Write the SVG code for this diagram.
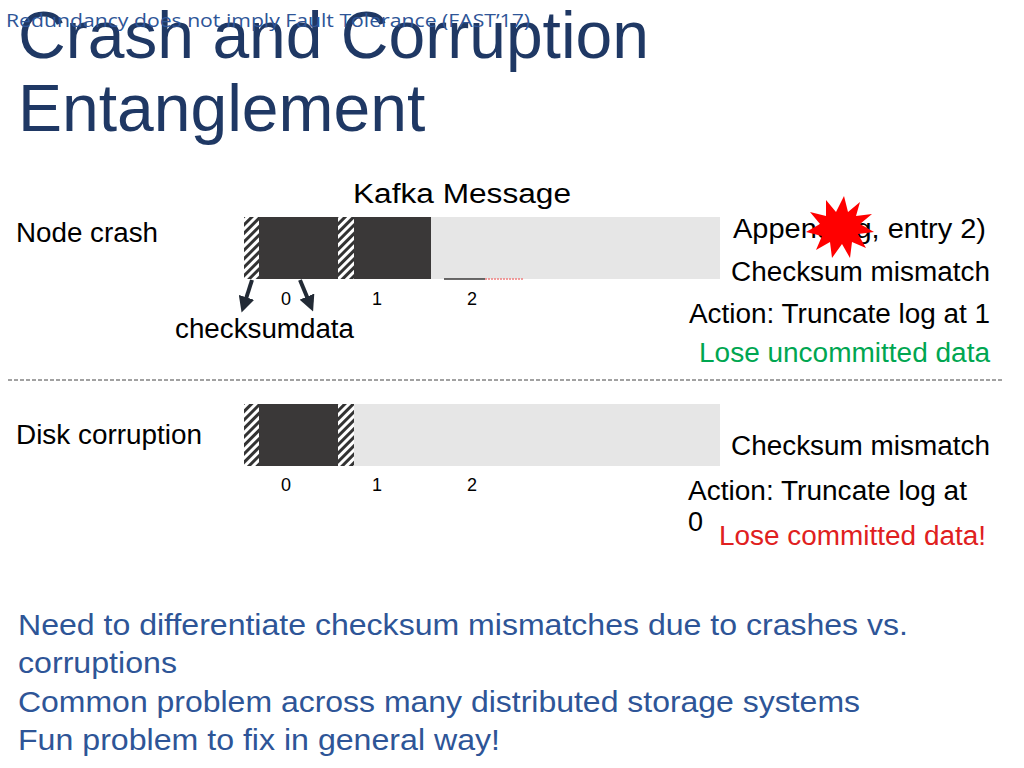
<svg xmlns="http://www.w3.org/2000/svg" width="1024" height="768" viewBox="0 0 1024 768">
<style>
.t{font-family:"Liberation Sans",Arial,sans-serif;}
.title{font-size:66px;fill:#1f3864;}
.k{font-size:27px;fill:#000;}
.n{font-size:18px;fill:#000;}
.b{font-size:29px;fill:#2e5597;}
.dark{fill:#3a3838;}
.light{fill:#e6e6e6;}
</style>
<defs>
<pattern id="h" patternUnits="userSpaceOnUse" width="6" height="6" patternTransform="rotate(45)">
<rect width="6" height="6" fill="#fff"/><rect width="3" height="6" fill="#333"/>
</pattern>
<marker id="a" markerWidth="4" markerHeight="4" refX="2" refY="2" orient="auto"><path d="M0,0L4,2L0,4z" fill="#222a35"/></marker>
</defs>
<rect width="1024" height="768" fill="#fff"/>
<text class="t title" x="18" y="58">Crash and Corruption</text>
<text class="t title" x="18" y="131">Entanglement</text>
<text x="6" y="27" font-family="'Open Sans',sans-serif" font-size="19" fill="#2e5597" textLength="524" lengthAdjust="spacingAndGlyphs">Redundancy does not imply Fault Tolerance (FAST’17)</text>
<g id="row1">
<text class="t k" x="353" y="203" textLength="218" lengthAdjust="spacingAndGlyphs">Kafka Message</text>
<text class="t k" x="16" y="242" textLength="142" lengthAdjust="spacingAndGlyphs">Node crash</text>
<rect x="244" y="217" width="15" height="62" fill="url(#h)"/>
<rect class="dark" x="259" y="217" width="79" height="62"/>
<rect x="338" y="217" width="16" height="62" fill="url(#h)"/>
<rect class="dark" x="354" y="217" width="77" height="62"/>
<rect class="light" x="431" y="217" width="289" height="62"/>
<line x1="444" y1="279" x2="485" y2="279" stroke="#3a3838" stroke-width="1.5"/>
<line x1="485" y1="279" x2="524" y2="279" stroke="#f08080" stroke-width="1.5" stroke-dasharray="2,1"/>
<text class="t n" x="281" y="305">0</text><text class="t n" x="372" y="305">1</text><text class="t n" x="467" y="305">2</text>
<text class="t k" x="175" y="338" textLength="179" lengthAdjust="spacingAndGlyphs">checksumdata</text>
</g>
<g id="connectors" stroke="#222a35" stroke-width="4" marker-end="url(#a)">
<line x1="252" y1="280" x2="244" y2="305"/>
<line x1="300" y1="280" x2="310" y2="304"/>
</g>
<g id="msg1">
<text class="t k" x="733" y="238" textLength="253" lengthAdjust="spacingAndGlyphs">Appending, entry 2)</text>
<polygon fill="#f00" points="844,196 848,212 860,202 856,216 872,214 860,224 874,232 858,234 866,248 852,242 850,258 842,244 832,258 830,242 816,250 822,236 806,232 820,224 810,212 826,216 826,200 836,212"/>
<text class="t k" x="731" y="281" textLength="259" lengthAdjust="spacingAndGlyphs">Checksum mismatch</text>
<text class="t k" x="689" y="323" textLength="301" lengthAdjust="spacingAndGlyphs">Action: Truncate log at 1</text>
<text class="t k" x="699" y="362" textLength="291" lengthAdjust="spacingAndGlyphs" style="fill:#00a651">Lose uncommitted data</text>
</g>
<line x1="8" y1="380" x2="1002" y2="380" stroke="#444" stroke-dasharray="4,2"/>
<g id="row2">
<text class="t k" x="16" y="444" textLength="186" lengthAdjust="spacingAndGlyphs">Disk corruption</text>
<rect x="244" y="404" width="15" height="62" fill="url(#h)"/>
<rect class="dark" x="259" y="404" width="79" height="62"/>
<rect x="338" y="404" width="16" height="62" fill="url(#h)"/>
<rect class="light" x="354" y="404" width="366" height="62"/>
<text class="t n" x="281" y="491">0</text><text class="t n" x="372" y="491">1</text><text class="t n" x="467" y="491">2</text>
</g>
<g id="msg2">
<text class="t k" x="731" y="455" textLength="259" lengthAdjust="spacingAndGlyphs">Checksum mismatch</text>
<text class="t k" x="688" y="500" textLength="279" lengthAdjust="spacingAndGlyphs">Action: Truncate log at</text>
<text class="t k" x="688" y="531">0</text>
<text class="t k" x="719" y="545" textLength="267" lengthAdjust="spacingAndGlyphs" style="fill:#e02020">Lose committed data!</text>
</g>
<g id="notes">
<text class="t b" x="18" y="635" textLength="890" lengthAdjust="spacingAndGlyphs">Need to differentiate checksum mismatches due to crashes vs.</text>
<text class="t b" x="18" y="673" textLength="159" lengthAdjust="spacingAndGlyphs">corruptions</text>
<text class="t b" x="18" y="712" textLength="842" lengthAdjust="spacingAndGlyphs">Common problem across many distributed storage systems</text>
<text class="t b" x="18" y="750" textLength="482" lengthAdjust="spacingAndGlyphs">Fun problem to fix in general way!</text>
</g>
</svg>
